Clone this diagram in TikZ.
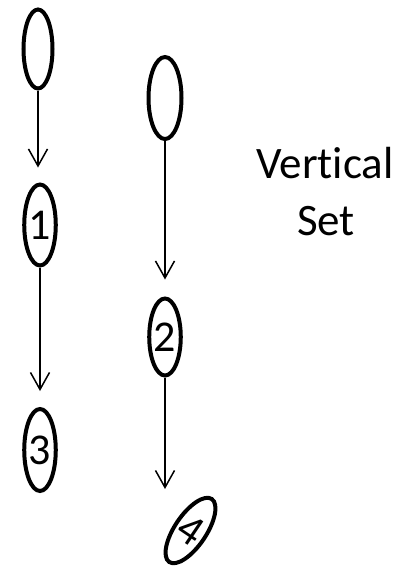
\documentclass[tikz,border=0pt]{standalone}
\usepackage{fontspec}
\setmainfont[Ligatures={NoCommon}]{Carlito}
\usetikzlibrary{arrows.meta,shapes.geometric}
\tikzset{
  oval/.style={draw=black, line width=4pt, ellipse, inner sep=0pt, font=\fontsize{44}{50}\selectfont},
  conn/.style={draw=black, line width=1.5pt, -{Straight Barb[length=17pt,width=19pt,line width=1.5pt]}},
  lbl/.style={anchor=base, font=\fontsize{45}{54}\selectfont, inner sep=0pt}
}
\begin{document}
\begin{tikzpicture}[x=1pt,y=1pt]
\useasboundingbox (0,0) rectangle (412,-568);
\node[oval, minimum width=29pt, minimum height=79pt] (a) at (38,-49) {};
\node[oval, minimum width=25pt, minimum height=81pt] (n1) at (40,-225) {1};
\node[oval, minimum width=26pt, minimum height=82pt] (n3) at (40,-450) {3};
\node[oval, minimum width=33pt, minimum height=82pt] (b) at (165,-98) {};
\node[oval, minimum width=31.5pt, minimum height=77pt] (n2) at (165,-337) {2};
\node[oval, minimum width=28pt, minimum height=76pt, rotate=-34] (n4) at (190.5,-530.5) {4};
\coordinate (t4) at (165,-489);
\draw[conn, shorten >=15pt] (a.south) -- (a.south |- n1.north);
\draw[conn, shorten >=16pt] (n1.south) -- (n1.south |- n3.north);
\draw[conn, shorten >=17pt] (b.south) -- (b.south |- n2.north);
\draw[conn] (n2.south) -- (t4);
\node[lbl] (v) at (325,-178) {Vertical};
\node[lbl] (s) at (326,-235) {Set};
\end{tikzpicture}
\end{document}
